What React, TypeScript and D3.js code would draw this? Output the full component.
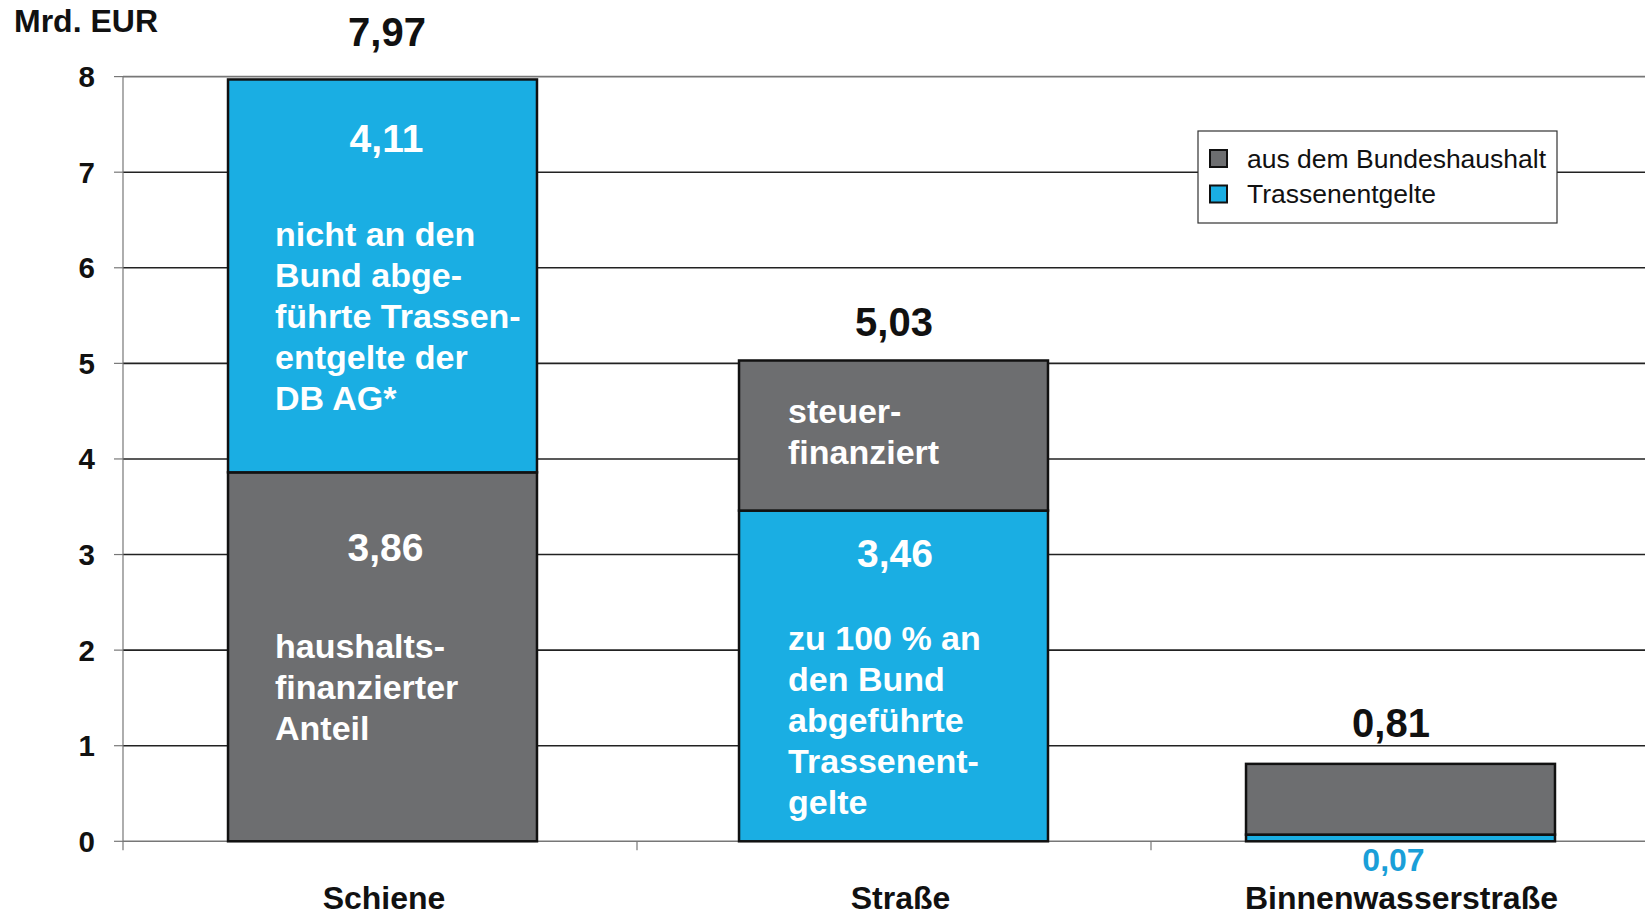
import React from "react";
import * as d3 from "d3";

const categories = ["Schiene", "Straße", "Binnenwasserstraße"];
const bundeshaushalt = [3.86, 1.57, 0.74];
const trassenentgelte = [4.11, 3.46, 0.07];
const totals = [7.97, 5.03, 0.81];
const bottomSeries = ["haushalt", "trassen", "trassen"];
const yTicks = [0, 1, 2, 3, 4, 5, 6, 7, 8];
const totalLabels = ["7,97", "5,03", "0,81"];
const haushaltLabels = ["3,86", "", ""];
const trassenLabels = ["4,11", "3,46", "0,07"];
const legendItems = ["aus dem Bundeshaushalt", "Trassenentgelte"];
const noteSchieneTrassen = ["nicht an den", "Bund abge-", "führte Trassen-", "entgelte der", "DB AG*"];
const noteSchieneHaushalt = ["haushalts-", "finanzierter", "Anteil"];
const noteStrasseHaushalt = ["steuer-", "finanziert"];
const noteStrasseTrassen = ["zu 100 % an", "den Bund", "abgeführte", "Trassenent-", "gelte"];

const W = 1645;
const H = 915;
const GRAY = "#6d6e70";
const BLUE = "#1aaee3";
const FONT = "'Liberation Sans', Arial, Helvetica, sans-serif";

export default function App() {
  // axis categories (tick boundaries)
  const xAxis = d3.scaleBand<string>().domain(categories).range([123, 1665]);
  // bars
  const x = d3.scaleBand<string>().domain(categories).range([128, 1655]).paddingInner(0.393).paddingOuter(0.1965);
  const y = d3.scaleLinear().domain([0, 8]).range([841.3, 76.6]);
  const bw = x.bandwidth();
  const barShift = [0, 2, 0];

  const segs = categories.map((c, i) => {
    const hFirst = bottomSeries[i] === "haushalt";
    const b0 = hFirst ? bundeshaushalt[i] : trassenentgelte[i];
    const b1 = hFirst ? trassenentgelte[i] : bundeshaushalt[i];
    return {
      c,
      i,
      bottom: { key: bottomSeries[i], v0: 0, v1: b0 },
      top: { key: hFirst ? "trassen" : "haushalt", v0: b0, v1: b0 + b1 },
    };
  });

  const segTop = (i: number, key: string) => {
    const s = segs[i];
    const seg = s.bottom.key === key ? s.bottom : s.top;
    return y(seg.v1);
  };

  const bx = (i: number) => x(categories[i])! + barShift[i];

  // layout of annotations (pixel offsets from segment tops / bar edges)
  const notes = [
    { i: 0, key: "trassen", lines: noteSchieneTrassen, dy: 167, dx: 47 },
    { i: 0, key: "haushalt", lines: noteSchieneHaushalt, dy: 186, dx: 47 },
    { i: 1, key: "haushalt", lines: noteStrasseHaushalt, dy: 62.5, dx: 49 },
    { i: 1, key: "trassen", lines: noteStrasseTrassen, dy: 139.5, dx: 49 },
  ];
  const innerVals = [
    { i: 0, key: "trassen", text: trassenLabels[0], dy: 72.6, dx: 4 },
    { i: 0, key: "haushalt", text: haushaltLabels[0], dy: 89, dx: 3 },
    { i: 1, key: "trassen", text: trassenLabels[1], dy: 56.5, dx: 1.5 },
  ];
  const totalDy = [-33.5, -24.8, -26.5];
  const totalDx = [4.5, 0.5, -9.5];
  const catDx = [1.5, 7, 1];

  const fill = (k: string) => (k === "haushalt" ? GRAY : BLUE);
  const cx = (i: number) => bx(i) + bw / 2;

  return (
    <svg width={W} height={H} style={{ position: "absolute", left: 0, top: 0, display: "block", background: "#fff" }} fontFamily={FONT}>
      {/* gridlines */}
      {yTicks.map((t) => (
        <g key={t}>
          <line x1={123} x2={W} y1={y(t)} y2={y(t)} stroke={t === 0 || t === 8 ? "#777" : "#222"} strokeWidth={t === 0 ? 1.5 : 1.6} />
          <line x1={114} x2={123} y1={y(t)} y2={y(t)} stroke="#777" strokeWidth={1.2} />
          <text x={95} y={y(t) + 10.5} textAnchor="end" fontSize={29.5} fontWeight="bold" fill="#111">
            {t}
          </text>
        </g>
      ))}
      {/* y axis */}
      <line x1={123} x2={123} y1={y(8)} y2={y(0) + 9} stroke="#777" strokeWidth={1.2} />
      {/* x boundary ticks */}
      {categories.slice(1).map((c) => (
        <line key={c} x1={xAxis(c)!} x2={xAxis(c)!} y1={y(0)} y2={y(0) + 9} stroke="#777" strokeWidth={1.2} />
      ))}
      {/* bars */}
      {segs.map((s) =>
        [s.bottom, s.top].map((seg) => (
          <rect
            key={s.c + seg.key}
            x={bx(s.i)}
            y={y(seg.v1)}
            width={bw}
            height={y(seg.v0) - y(seg.v1)}
            fill={fill(seg.key)}
            stroke="#111"
            strokeWidth={2.5}
          />
        ))
      )}
      {/* total labels */}
      {segs.map((s) => (
        <text
          key={"t" + s.c}
          x={cx(s.i) + totalDx[s.i]}
          y={y(totals[s.i]) + totalDy[s.i]}
          textAnchor="middle"
          fontSize={40}
          fontWeight="bold"
          fill="#111"
        >
          {totalLabels[s.i]}
        </text>
      ))}
      {/* inner value labels */}
      {innerVals.map((v) => (
        <text
          key={"v" + v.i + v.key}
          x={cx(v.i) + v.dx}
          y={segTop(v.i, v.key) + v.dy}
          textAnchor="middle"
          fontSize={39}
          fontWeight="bold"
          fill="#fff"
        >
          {v.text}
        </text>
      ))}
      {/* small value below Binnenwasserstraße */}
      <text x={cx(2) - 7} y={y(0) + 30} textAnchor="middle" fontSize={32} fontWeight="bold" fill="#1a9fd8">
        {trassenLabels[2]}
      </text>
      {/* notes */}
      {notes.map((n) => (
        <text key={"n" + n.i + n.key} x={bx(n.i) + n.dx} y={segTop(n.i, n.key) + n.dy} fontSize={34} fontWeight="bold" fill="#fff">
          {n.lines.map((l, k) => (
            <tspan key={k} x={bx(n.i) + n.dx} dy={k === 0 ? 0 : 41}>
              {l}
            </tspan>
          ))}
        </text>
      ))}
      {/* category labels */}
      {categories.map((c, i) => (
        <text key={"c" + c} x={cx(i) + catDx[i]} y={909} textAnchor="middle" fontSize={32} fontWeight="bold" fill="#111">
          {c}
        </text>
      ))}
      {/* unit */}
      <text x={14} y={32} fontSize={32} fontWeight="bold" fill="#111">
        Mrd. EUR
      </text>
      {/* legend */}
      <g>
        <rect x={1198} y={131} width={359} height={92} fill="#fff" stroke="#333" strokeWidth={1.2} />
        {legendItems.map((l, i) => (
          <g key={l}>
            <rect x={1210} y={150 + i * 35.5} width={17} height={17} fill={i === 0 ? GRAY : BLUE} stroke="#111" strokeWidth={2} />
            <text x={1247} y={167.5 + i * 35.5} fontSize={26.5} fill="#111">
              {l}
            </text>
          </g>
        ))}
      </g>
    </svg>
  );
}
